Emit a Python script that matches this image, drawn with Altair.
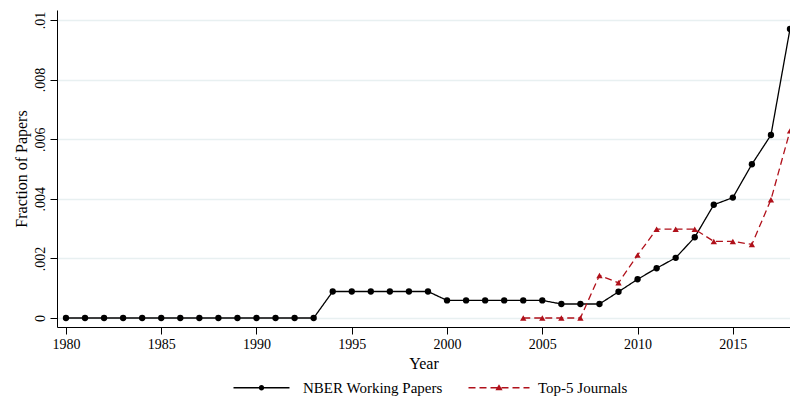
import altair as alt
import pandas as pd

series_names = ["NBER Working Papers", "Top-5 Journals"]
series_colors = ["#000000", "#b0101a"]

nber_years = [1980, 1981, 1982, 1983, 1984, 1985, 1986, 1987, 1988, 1989,
              1990, 1991, 1992, 1993, 1994, 1995, 1996, 1997, 1998, 1999,
              2000, 2001, 2002, 2003, 2004, 2005, 2006, 2007, 2008, 2009,
              2010, 2011, 2012, 2013, 2014, 2015, 2016, 2017, 2018]
nber_values = [0, 0, 0, 0, 0, 0, 0, 0, 0, 0,
               0, 0, 0, 0, 0.00089, 0.00089, 0.00089, 0.00089, 0.00089, 0.00089,
               0.00059, 0.00059, 0.00059, 0.00059, 0.00059, 0.00059, 0.00047, 0.00047, 0.00047, 0.00088,
               0.0013, 0.00167, 0.00202, 0.00271, 0.0038, 0.00404, 0.00516, 0.00614, 0.0097]

top5_years = [2004, 2005, 2006, 2007, 2008, 2009, 2010, 2011, 2012, 2013,
              2014, 2015, 2016, 2017, 2018]
top5_values = [0, 0, 0, 0, 0.00143, 0.00118, 0.00211, 0.00298, 0.00298, 0.00298,
               0.00257, 0.00257, 0.00247, 0.00397, 0.00628]

x_ticks = [1980, 1985, 1990, 1995, 2000, 2005, 2010, 2015]
y_ticks = [0, 0.002, 0.004, 0.006, 0.008, 0.01]

rows = []
for yr, v in zip(nber_years, nber_values):
    rows.append({"year": yr, "value": v, "series": series_names[0]})
for yr, v in zip(top5_years, top5_values):
    rows.append({"year": yr, "value": v, "series": series_names[1]})
df = pd.DataFrame(rows)

FONT = "Liberation Serif"

# legend symbols: line + marker drawn as custom paths.
# symbolSize 144 -> one path unit = 6 px; symbol centre sits 6 px into the entry.
U = 6.0


def rect(a_px, b_px, t_px=0.65):
    a, b, t = a_px / U, b_px / U, t_px / U
    return f"M{a:.3f},{-t:.3f}L{b:.3f},{-t:.3f}L{b:.3f},{t:.3f}L{a:.3f},{t:.3f}Z"


cx = 22 / U
r = 2.7 / U
nber_sym = rect(-6, 50) + (
    f"M{cx - r:.3f},0A{r:.3f},{r:.3f},0,1,1,{cx + r:.3f},0"
    f"A{r:.3f},{r:.3f},0,1,1,{cx - r:.3f},0Z"
)
dash_px = [(-6, 1), (5, 12), (16, 23), (27, 34), (38, 45), (49, 55)]
top5_sym = "".join(rect(a, b) for a, b in dash_px)
tx = 24.5
top5_sym += (
    f"M{tx / U:.3f},{-3.6 / U:.3f}L{(tx + 3.6) / U:.3f},{2.6 / U:.3f}"
    f"L{(tx - 3.6) / U:.3f},{2.6 / U:.3f}Z"
)

x_enc = alt.X(
    "year:Q",
    scale=alt.Scale(domain=[1979.53, 2018], nice=False, zero=False),
    axis=alt.Axis(
        values=x_ticks, format="d", title="Year", grid=False,
        labelFont=FONT, labelFontSize=14, labelColor="#000000",
        titleFont=FONT, titleFontSize=16, titleFontWeight="normal", titleColor="#000000",
        tickSize=7, tickColor="#000000", domainColor="#000000", domainWidth=1,
        labelPadding=3, titlePadding=4, labelFlush=False,
    ),
)
y_enc = alt.Y(
    "value:Q",
    scale=alt.Scale(domain=[-0.000302, 0.010336], nice=False, zero=False),
    axis=alt.Axis(
        values=y_ticks, title="Fraction of Papers",
        labelExpr="datum.value == 0 ? '0' : replace(format(datum.value, '.3~f'), '0.', '.')",
        grid=True, gridColor="#e8f0f1", gridWidth=1.3,
        labelAngle=270, labelAlign="center", labelBaseline="middle",
        labelFont=FONT, labelFontSize=14, labelColor="#000000",
        titleFont=FONT, titleFontSize=16, titleFontWeight="normal", titleColor="#000000",
        tickSize=7, tickColor="#000000", domainColor="#000000", domainWidth=1,
        labelPadding=10, titlePadding=4, labelFlush=False,
    ),
)

color_scale = alt.Scale(domain=series_names, range=series_colors)

lines = alt.Chart(df).mark_line(strokeWidth=1.3).encode(
    x=x_enc, y=y_enc,
    color=alt.Color("series:N", scale=color_scale, legend=None),
    strokeDash=alt.StrokeDash("series:N", scale=alt.Scale(domain=series_names, range=[[1, 0], [7, 4]]), legend=None),
)

points = alt.Chart(df).mark_point(filled=True, size=40, opacity=1).encode(
    x=x_enc, y=y_enc,
    color=alt.Color("series:N", scale=color_scale, legend=None),
    shape=alt.Shape("series:N", scale=alt.Scale(domain=series_names, range=["circle", "triangle-up"]), legend=None),
)

legend_props = dict(
    orient="none", legendX=175, legendY=370, direction="horizontal", title=None,
    symbolSize=144, symbolStrokeWidth=0, symbolOpacity=1,
    labelFont=FONT, labelFontSize=15, labelColor="#000000",
    labelOffset=56, columnPadding=24,
)

legend_layer = alt.Chart(df).mark_point(filled=True, opacity=0, size=10).encode(
    x=x_enc, y=y_enc,
    color=alt.Color("series:N", scale=color_scale, legend=alt.Legend(**legend_props)),
    shape=alt.Shape("series:N", scale=alt.Scale(domain=series_names, range=[nber_sym, top5_sym]),
                    legend=alt.Legend(**legend_props)),
)

chart = alt.layer(lines, points, legend_layer).resolve_scale(
    color="independent", shape="independent"
).properties(
    width=733, height=317,
    autosize=alt.AutoSizeParams(type="none"),
    padding={"left": 49, "top": 2, "right": 0, "bottom": 69},
    background="white",
).configure_view(stroke=None)

chart.save("out.html", embed_options={"renderer": "svg", "actions": False})
